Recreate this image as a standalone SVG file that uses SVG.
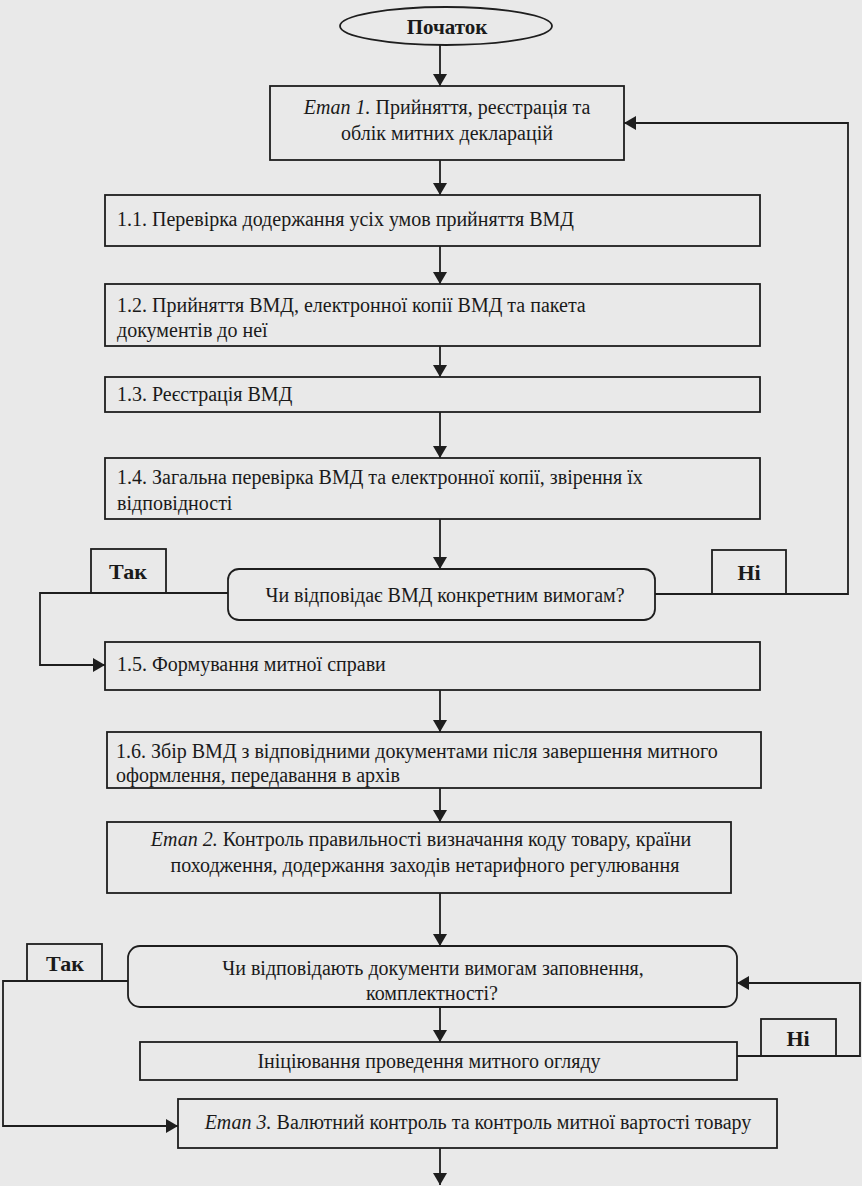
<svg xmlns="http://www.w3.org/2000/svg" width="862" height="1186" viewBox="0 0 862 1186">
<defs>
<marker id="ah" viewBox="0 0 12 14" refX="12" refY="7" markerWidth="12" markerHeight="14" markerUnits="userSpaceOnUse" orient="auto">
<path d="M0,0 L12,7 L0,14 z" fill="#1e1e1e"/>
</marker>
</defs>
<style>
.bx{fill:none;stroke:#1e1e1e;stroke-width:1.8}
.ln{fill:none;stroke:#1e1e1e;stroke-width:1.8}
.ar{fill:none;stroke:#1e1e1e;stroke-width:1.8;marker-end:url(#ah)}
.t{font-family:"Liberation Serif","DejaVu Serif",serif;font-size:20px;fill:#1a1a1a}
.c{text-anchor:middle}
.b{font-family:"Liberation Serif","DejaVu Serif",serif;font-weight:bold;font-size:22px;fill:#1a1a1a;text-anchor:middle}
.i{font-style:italic}
</style>
<rect x="0" y="0" width="862" height="1186" fill="#e9e9e9"/>

<g id="connectors">
<line class="ar" x1="440" y1="45" x2="440" y2="86"/>
<line class="ar" x1="440" y1="160" x2="440" y2="195"/>
<line class="ar" x1="440" y1="246" x2="440" y2="284"/>
<line class="ar" x1="440" y1="346" x2="440" y2="377"/>
<line class="ar" x1="440" y1="412" x2="440" y2="458"/>
<line class="ar" x1="440" y1="519" x2="440" y2="569"/>
<polyline class="ar" points="228,593 40,593 40,665 105,665"/>
<polyline class="ar" points="655,594 848,594 848,123 624,123"/>
<line class="ar" x1="440" y1="690" x2="440" y2="732"/>
<line class="ar" x1="440" y1="788" x2="440" y2="822"/>
<line class="ar" x1="440" y1="893" x2="440" y2="946"/>
<polyline class="ar" points="128,981 3,981 3,1126 178,1126"/>
<line class="ar" x1="440" y1="1007" x2="440" y2="1042"/>
<polyline class="ar" points="737,1056 860,1056 860,983 737,983"/>
<line class="ar" x1="440" y1="1148" x2="440" y2="1185"/>
</g>

<g id="start">
<ellipse class="bx" cx="446" cy="26" rx="106" ry="19"/>
<text class="b" x="447" y="34" style="font-size:21px">Початок</text>
</g>

<g id="stage1">
<rect class="bx" x="270" y="86" width="354" height="74"/>
<text class="t c" x="447" y="114"><tspan class="i">Етап 1.</tspan> Прийняття, реєстрація та</text>
<text class="t c" x="447" y="140">облік митних декларацій</text>
</g>

<g id="step11">
<rect class="bx" x="105" y="195" width="655" height="51"/>
<text class="t" x="117" y="226">1.1. Перевірка додержання усіх умов прийняття ВМД</text>
</g>

<g id="step12">
<rect class="bx" x="105" y="284" width="655" height="62"/>
<text class="t" x="117" y="312">1.2. Прийняття ВМД, електронної копії ВМД та пакета</text>
<text class="t" x="117" y="337">документів до неї</text>
</g>

<g id="step13">
<rect class="bx" x="105" y="377" width="655" height="35"/>
<text class="t" x="117" y="401">1.3. Реєстрація ВМД</text>
</g>

<g id="step14">
<rect class="bx" x="105" y="458" width="655" height="61"/>
<text class="t" x="117" y="484">1.4. Загальна перевірка ВМД та електронної копії, звірення їх</text>
<text class="t" x="117" y="510">відповідності</text>
</g>

<g id="decision1">
<rect class="bx" x="228" y="569" width="427" height="51" rx="11"/>
<text class="t c" x="445" y="602">Чи відповідає ВМД конкретним вимогам?</text>
</g>

<g id="yes1">
<rect class="bx" x="91" y="549" width="75" height="44"/>
<text class="b" x="128" y="579">Так</text>
</g>

<g id="no1">
<rect class="bx" x="712" y="550" width="74" height="44"/>
<text class="b" x="749" y="580">Ні</text>
</g>

<g id="step15">
<rect class="bx" x="105" y="642" width="655" height="48"/>
<text class="t" x="117" y="671">1.5. Формування митної справи</text>
</g>

<g id="step16">
<rect class="bx" x="107" y="732" width="654" height="56"/>
<text class="t" x="116" y="758">1.6. Збір ВМД з відповідними документами після завершення митного</text>
<text class="t" x="116" y="782">оформлення, передавання в архів</text>
</g>

<g id="stage2">
<rect class="bx" x="107" y="822" width="624" height="71"/>
<text class="t c" x="421" y="846"><tspan class="i">Етап 2.</tspan> Контроль правильності визначання коду товару, країни</text>
<text class="t c" x="425" y="872">походження, додержання заходів нетарифного регулювання</text>
</g>

<g id="decision2">
<rect class="bx" x="128" y="946" width="609" height="61" rx="12"/>
<text class="t c" x="433" y="975">Чи відповідають документи вимогам заповнення,</text>
<text class="t c" x="432" y="1000">комплектності?</text>
</g>

<g id="yes2">
<rect class="bx" x="27" y="944" width="75" height="37"/>
<text class="b" x="65" y="971">Так</text>
</g>

<g id="inspection">
<rect class="bx" x="140" y="1042" width="597" height="38"/>
<text class="t c" x="429" y="1068">Ініціювання проведення митного огляду</text>
</g>

<g id="no2">
<rect class="bx" x="761" y="1019" width="75" height="37"/>
<text class="b" x="798" y="1046">Ні</text>
</g>

<g id="stage3">
<rect class="bx" x="178" y="1099" width="599" height="49"/>
<text class="t c" x="478" y="1129"><tspan class="i">Етап 3.</tspan> Валютний контроль та контроль митної вартості товару</text>
</g>
</svg>
